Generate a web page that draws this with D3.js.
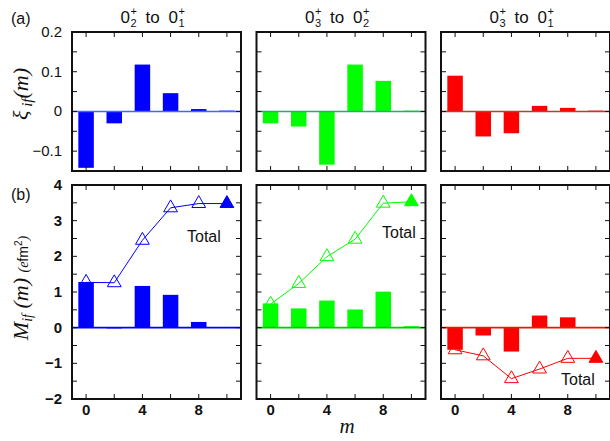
<!DOCTYPE html>
<html>
<head>
<meta charset="utf-8">
<script src="https://cdn.jsdelivr.net/npm/d3@7"></script>
<style>
  body { margin: 0; background: #fff; }
  svg text { font-family: "Liberation Sans", Arial, sans-serif; fill: #111; }
  .math { font-family: "Liberation Serif", "DejaVu Serif", serif; font-style: italic; }
</style>
</head>
<body>
<script>
// Multipole index m for every bar / point
const mValues = [0, 2, 4, 6, 8, 10];

// Panel titles: initial and final state subscripts (0_i^+ to 0_f^+)
const transitions = [[2, 1], [3, 2], [3, 1]];

// Series colours per transition
const barColors = ["#0000ff", "#00ff00", "#ff0000"];
const zeroColorsTop = ["#4466ff", "#22aa77", "#b04030"];
const zeroColorsBottom = ["#0000ff", "#00cc00", "#dd2200"];

// (a) xi_if(m)
const xiBlue = [-0.142, -0.03, 0.118, 0.046, 0.006, 0.002];
const xiGreen = [-0.03, -0.038, -0.134, 0.118, 0.077, 0.002];
const xiRed = [0.09, -0.063, -0.055, 0.014, 0.009, 0.002];

// (b) M_if(m) bars
const mBlue = [1.28, -0.02, 1.17, 0.92, 0.16, 0.01];
const mGreen = [0.68, 0.54, 0.76, 0.51, 1.01, 0.04];
const mRed = [-0.62, -0.22, -0.67, 0.34, 0.29, 0.01];

// (b) running totals (triangles)
const totBlue = [1.27, 1.26, 2.45, 3.36, 3.48, 3.48];
const totGreen = [0.66, 1.24, 1.99, 2.48, 3.49, 3.53];
const totRed = [-0.62, -0.79, -1.43, -1.16, -0.86, -0.86];

// Axis ticks
const xTickLabels = [0, 4, 8];
const topYTickLabels = [0.2, 0.1, 0, -0.1];
const bottomYTickLabels = [4, 3, 2, 1, 0, -1, -2];

const xiSeries = [xiBlue, xiGreen, xiRed];
const mSeries = [mBlue, mGreen, mRed];
const totSeries = [totBlue, totGreen, totRed];

// Layout
const width = 610, height = 441;
const panelLefts = [72, 256.5, 441];
const panelWidth = 169;
const topRow = [32, 171];
const bottomRow = [185, 399];
const barWidth = 1.1;   // in m units
const tickLen = 5;

const svg = d3.select("body").append("svg")
    .attr("width", width)
    .attr("height", height)
    .attr("viewBox", [0, 0, width, height]);

function drawPanel(p, row, yDomain, minorStep, bars, zeroColor, totals, isBottom) {
    const x0 = panelLefts[p], x1 = x0 + panelWidth;
    const [y0, y1] = row;

    const xScale = d3.scaleLinear().domain([-1, 11]).range([x0, x1]);
    const yScale = d3.scaleLinear().domain(yDomain).range([y1, y0]);

    const g = svg.append("g");

    // Bars
    g.selectAll("rect.bar")
        .data(mValues.map((m, i) => [m, bars[i]]))
        .enter()
        .append("rect")
        .attr("x", d => xScale(d[0] - barWidth / 2))
        .attr("width", d => xScale(d[0] + barWidth / 2) - xScale(d[0] - barWidth / 2))
        .attr("y", d => yScale(Math.max(0, d[1])))
        .attr("height", d => Math.abs(yScale(d[1]) - yScale(0)))
        .attr("fill", barColors[p]);

    // Zero line
    g.append("line")
        .attr("x1", x0).attr("x2", x1)
        .attr("y1", yScale(0)).attr("y2", yScale(0))
        .attr("stroke", zeroColor)
        .attr("stroke-width", 1.6);

    // Running total line with triangles
    if (totals) {
        const pts = mValues.map((m, i) => [m, totals[i]]);
        const line = d3.line()
            .x(d => xScale(d[0]))
            .y(d => yScale(d[1]));
        g.append("path")
            .attr("d", line(pts))
            .attr("fill", "none")
            .attr("stroke", barColors[p])
            .attr("stroke-width", 1);
        const tri = d3.symbol().type(d3.symbolTriangle).size(82);
        g.selectAll("path.tri")
            .data(pts)
            .enter()
            .append("path")
            .attr("d", tri)
            .attr("transform", d => `translate(${xScale(d[0])},${yScale(d[1])})`)
            .attr("fill", (d, i) => i === pts.length - 1 ? barColors[p] : "none")
            .attr("stroke", barColors[p])
            .attr("stroke-width", 1);
    }

    // Inward ticks on all four sides
    const yTicks = d3.range(yDomain[0], yDomain[1] + 1e-9, minorStep);
    yTicks.forEach(v => {
        const y = yScale(v);
        g.append("line").attr("x1", x0).attr("x2", x0 + tickLen).attr("y1", y).attr("y2", y)
            .attr("stroke", "#111").attr("stroke-width", 1);
        g.append("line").attr("x1", x1).attr("x2", x1 - tickLen).attr("y1", y).attr("y2", y)
            .attr("stroke", "#111").attr("stroke-width", 1);
    });
    mValues.forEach(m => {
        const x = xScale(m);
        g.append("line").attr("x1", x).attr("x2", x).attr("y1", y0).attr("y2", y0 + tickLen)
            .attr("stroke", "#111").attr("stroke-width", 1);
        g.append("line").attr("x1", x).attr("x2", x).attr("y1", y1).attr("y2", y1 - tickLen)
            .attr("stroke", "#111").attr("stroke-width", 1);
    });

    // Frame
    g.append("rect")
        .attr("x", x0).attr("y", y0)
        .attr("width", x1 - x0).attr("height", y1 - y0)
        .attr("fill", "none")
        .attr("stroke", "#111")
        .attr("stroke-width", 2);

    // Y tick labels on the first column only
    if (p === 0) {
        const labels = isBottom ? bottomYTickLabels : topYTickLabels;
        g.selectAll("text.ylab")
            .data(labels)
            .enter()
            .append("text")
            .attr("x", x0 - 10)
            .attr("y", d => yScale(d) + 5)
            .attr("text-anchor", "end")
            .style("font-size", "15px")
            .style("font-weight", isBottom ? "bold" : "normal")
            .text(d => d3.format("")(d));
    }

    // X tick labels under bottom row
    if (isBottom) {
        g.selectAll("text.xlab")
            .data(xTickLabels)
            .enter()
            .append("text")
            .attr("x", d => xScale(d))
            .attr("y", y1 + 16)
            .attr("text-anchor", "middle")
            .style("font-size", "15px")
            .style("font-weight", "bold")
            .text(d => d);
    }

    return xScale;
}

transitions.forEach((tr, p) => {
    drawPanel(p, topRow, [-0.15, 0.2], 0.05, xiSeries[p], zeroColorsTop[p], null, false);
    drawPanel(p, bottomRow, [-2, 4], 0.5, mSeries[p], zeroColorsBottom[p], totSeries[p], true);

    // Title 0_i^+ to 0_f^+
    const cx = panelLefts[p] + panelWidth / 2 - 2;
    const L = cx - 34;
    const t = svg.append("g").style("font-size", "17px");
    t.append("text").attr("x", L).attr("y", 23).text("0");
    t.append("text").attr("x", L + 10).attr("y", 27).style("font-size", "11px").text(tr[0]);
    t.append("text").attr("x", L + 10).attr("y", 15).style("font-size", "11px").text("+");
    t.append("text").attr("x", L + 25).attr("y", 23).text("to");
    t.append("text").attr("x", L + 48).attr("y", 23).text("0");
    t.append("text").attr("x", L + 58).attr("y", 27).style("font-size", "11px").text(tr[1]);
    t.append("text").attr("x", L + 58).attr("y", 15).style("font-size", "11px").text("+");
});

// "Total" labels
const totalPos = [[187, 242], [382, 238], [561, 385]];
totalPos.forEach(d => {
    svg.append("text").attr("x", d[0]).attr("y", d[1])
        .style("font-size", "16px").text("Total");
});

// Panel letters
svg.append("text").attr("x", 11).attr("y", 24).style("font-size", "16px").text("(a)");
svg.append("text").attr("x", 11).attr("y", 200).style("font-size", "16px").text("(b)");

// Y axis titles
const yTop = svg.append("text")
    .attr("class", "math")
    .attr("transform", "translate(28,94) rotate(-90)")
    .attr("text-anchor", "middle")
    .style("font-size", "22px");
yTop.append("tspan").text("ξ");
yTop.append("tspan").attr("dy", 4).style("font-size", "15px").text(" if");
yTop.append("tspan").attr("dy", -4).text("(m)");

const yBot = svg.append("text")
    .attr("class", "math")
    .attr("transform", "translate(28,288) rotate(-90)")
    .attr("text-anchor", "middle")
    .style("font-size", "22px");
yBot.append("tspan").text("M");
yBot.append("tspan").attr("dy", 4).style("font-size", "14px").text("if");
yBot.append("tspan").attr("dy", -4).text(" (m) ");
yBot.append("tspan").style("font-size", "14px").text("(e");
yBot.append("tspan").style("font-size", "14px").style("font-style", "normal")
    .style("font-family", "'Liberation Sans', sans-serif").text("fm");
yBot.append("tspan").attr("dy", -6).style("font-size", "10px").style("font-style", "normal")
    .style("font-family", "'Liberation Sans', sans-serif").text("2");
yBot.append("tspan").attr("dy", 6).style("font-size", "14px").text(")");

// x axis title
svg.append("text")
    .attr("class", "math")
    .attr("x", 347).attr("y", 433)
    .attr("text-anchor", "middle")
    .style("font-size", "21px")
    .text("m");
</script>
</body>
</html>
